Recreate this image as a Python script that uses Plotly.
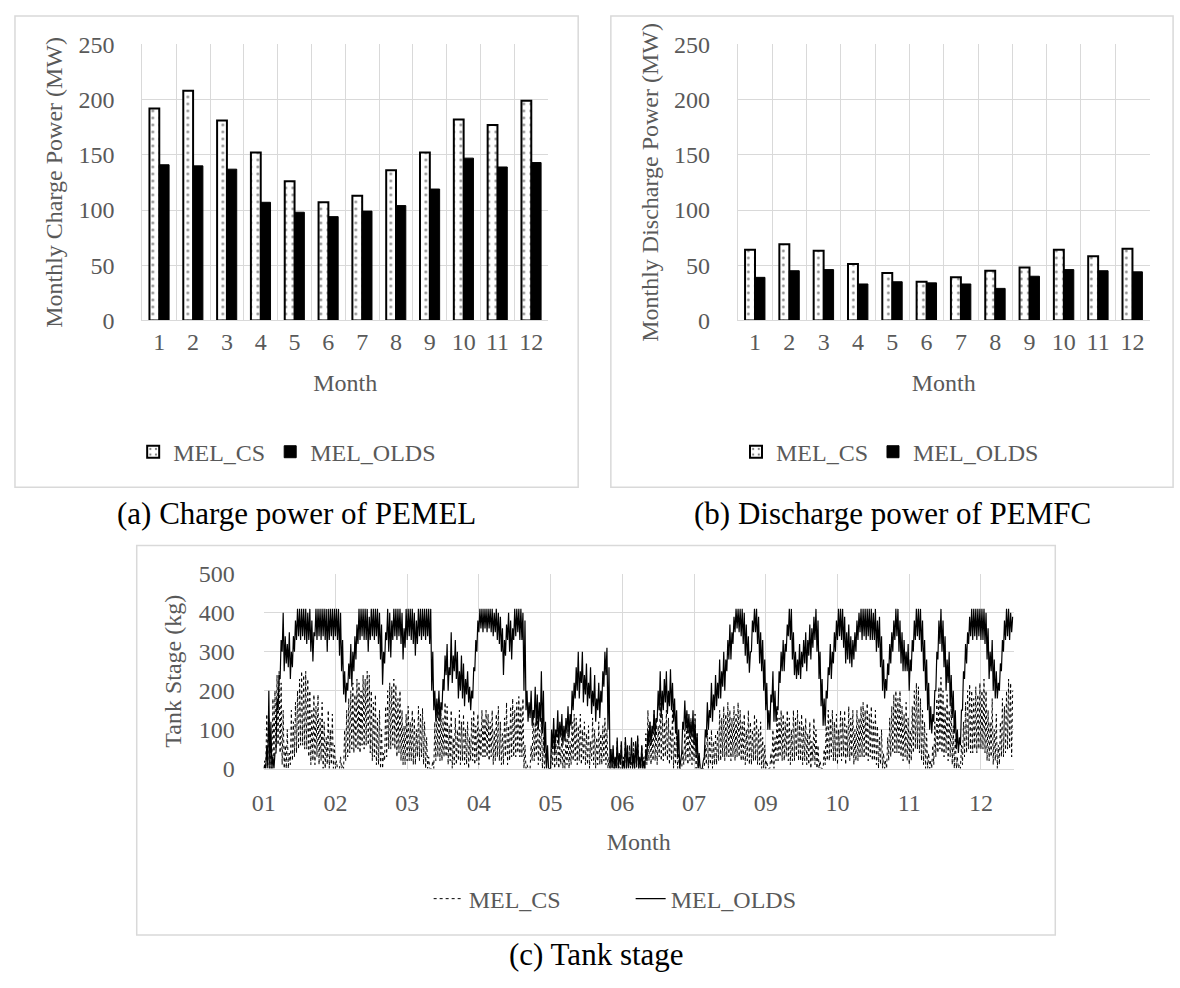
import pandas as pd
import plotly.graph_objects as go

W, H = 1180, 988

# ---------------- monthly bar data ----------------
months = [str(m) for m in range(1, 13)]
charge_cs = [192, 208, 181, 152, 126, 107, 113, 136, 152, 182, 177, 199]
charge_olds = [141, 140, 137, 107, 98, 94, 99, 104, 119, 147, 139, 143]
discharge_cs = [64, 69, 63, 51, 43, 35, 39, 45, 48, 64, 58, 65]
discharge_olds = [39, 45, 46, 33, 35, 34, 33, 29, 40, 46, 45, 44]

# ---------------- tank stage (daily high / low, kg) ----------------
olds_high = [
    10, 60, 200, 120, 30, 40, 180, 240, 330, 400, 340, 320, 350, 300, 340, 380,
    410, 410, 410, 410, 410, 400, 410, 380, 350, 410, 410, 410, 410, 410, 410, 410,
    410, 410, 410, 410, 410, 400, 330, 250, 220, 270, 320, 300, 340, 370, 410, 410,
    410, 410, 410, 390, 410, 410, 410, 410, 400, 370, 300, 350, 410, 400, 380, 410,
    410, 410, 410, 400, 360, 410, 410, 410, 410, 400, 380, 410, 410, 410, 410, 410,
    410, 410, 300, 200, 180, 200, 170, 230, 290, 320, 260, 350, 290, 330, 300, 250,
    290, 270, 230, 250, 210, 200, 260, 330, 380, 410, 410, 410, 410, 410, 410, 410,
    400, 410, 400, 390, 360, 330, 370, 400, 380, 360, 410, 410, 410, 410, 400, 380,
    200, 170, 200, 150, 210, 190, 170, 250, 200, 120, 60, 0, 100, 130, 100, 150,
    120, 140, 110, 130, 160, 140, 200, 220, 260, 300, 250, 300, 240, 270, 220, 260,
    200, 240, 180, 220, 200, 250, 300, 310, 260, 50, 60, 30, 80, 40, 70, 20,
    80, 60, 30, 80, 40, 70, 85, 30, 60, 20, 50, 100, 120, 110, 150, 130,
    200, 250, 200, 230, 250, 200, 255, 220, 180, 150, 100, 20, 120, 175, 150, 140,
    120, 150, 120, 90, 40, 0, 20, 100, 170, 150, 220, 190, 240, 220, 280, 250,
    300, 280, 330, 370, 350, 390, 410, 410, 410, 410, 400, 370, 340, 300, 380, 410,
    410, 390, 350, 330, 280, 220, 150, 190, 250, 200, 160, 250, 300, 330, 320, 370,
    410, 410, 350, 300, 280, 320, 300, 330, 350, 330, 370, 360, 390, 410, 380, 300,
    230, 180, 200, 260, 320, 300, 350, 380, 410, 410, 410, 390, 350, 370, 340, 330,
    350, 380, 400, 410, 410, 410, 410, 410, 410, 400, 410, 380, 390, 340, 280, 230,
    270, 320, 350, 380, 410, 410, 380, 350, 330, 300, 320, 280, 330, 380, 410, 410,
    410, 380, 330, 280, 220, 160, 140, 200, 300, 380, 410, 380, 340, 280, 300, 240,
    200, 150, 100, 80, 150, 250, 320, 350, 390, 410, 410, 410, 410, 410, 410, 410,
    400, 360, 300, 330, 280, 250, 220, 270, 330, 380, 410, 410, 400, 390,
]
olds_low = [
    0, 0, 0, 0, 0, 0, 40, 150, 230, 300, 250, 270, 260, 230, 260, 300,
    330, 340, 330, 340, 330, 320, 330, 300, 275, 340, 330, 340, 330, 340, 330, 300,
    330, 340, 330, 340, 330, 290, 250, 190, 170, 200, 230, 210, 250, 280, 320, 330,
    340, 330, 330, 300, 330, 340, 330, 340, 320, 280, 215, 270, 330, 300, 285, 330,
    340, 330, 340, 320, 280, 310, 330, 340, 330, 320, 290, 320, 340, 330, 340, 330,
    340, 320, 200, 150, 120, 130, 120, 150, 200, 240, 200, 240, 220, 250, 230, 180,
    200, 180, 160, 190, 170, 150, 180, 250, 300, 350, 360, 350, 360, 350, 360, 350,
    340, 350, 330, 320, 300, 240, 290, 330, 300, 280, 330, 340, 350, 330, 330, 200,
    150, 120, 130, 110, 130, 110, 100, 120, 90, 40, 0, 0, 0, 50, 40, 80,
    60, 80, 60, 70, 90, 80, 110, 150, 180, 200, 180, 220, 170, 190, 160, 180,
    140, 160, 120, 150, 130, 170, 210, 240, 100, 0, 0, 0, 0, 0, 10, 0,
    0, 0, 0, 10, 0, 0, 10, 0, 0, 0, 0, 20, 60, 60, 90, 80,
    120, 150, 130, 150, 170, 140, 160, 150, 120, 90, 30, 0, 40, 100, 100, 90,
    80, 80, 60, 30, 0, 0, 0, 30, 80, 100, 130, 120, 150, 160, 180, 180,
    210, 200, 250, 280, 280, 320, 350, 360, 350, 340, 320, 290, 270, 246, 300, 350,
    350, 320, 270, 250, 200, 150, 100, 100, 170, 120, 120, 150, 220, 250, 250, 300,
    340, 330, 280, 240, 230, 240, 230, 260, 270, 250, 290, 280, 310, 330, 300, 230,
    160, 110, 110, 180, 240, 230, 270, 300, 330, 340, 330, 310, 270, 280, 270, 260,
    280, 300, 330, 350, 330, 340, 330, 340, 330, 330, 330, 300, 310, 260, 200, 180,
    200, 240, 270, 300, 330, 340, 300, 270, 250, 250, 250, 200, 250, 300, 330, 340,
    330, 300, 250, 200, 150, 100, 90, 120, 200, 280, 320, 300, 260, 200, 220, 160,
    130, 90, 50, 40, 60, 150, 230, 270, 320, 340, 330, 340, 330, 340, 330, 330,
    320, 280, 230, 250, 200, 180, 180, 200, 250, 300, 330, 340, 330, 350,
]
cs_high = [
    20, 140, 130, 60, 180, 200, 240, 250, 220, 150, 60, 100, 40, 150, 120, 170,
    200, 230, 250, 240, 250, 230, 200, 150, 190, 160, 190, 130, 170, 120, 80, 150,
    100, 140, 60, 20, 0, 30, 10, 100, 150, 180, 200, 220, 190, 230, 220, 200,
    240, 230, 250, 240, 200, 170, 190, 130, 150, 100, 40, 160, 200, 220, 210, 230,
    215, 180, 200, 150, 110, 140, 160, 120, 150, 130, 100, 160, 140, 155, 120, 80,
    30, 0, 20, 120, 160, 180, 150, 130, 170, 160, 110, 150, 80, 130, 100, 150,
    120, 140, 100, 120, 80, 130, 150, 110, 140, 100, 150, 130, 150, 140, 120, 150,
    100, 140, 160, 120, 90, 130, 170, 110, 160, 180, 150, 170, 185, 160, 180, 60,
    10, 0, 60, 150, 120, 140, 100, 130, 80, 40, 0, 0, 60, 100, 80, 100,
    60, 90, 50, 80, 100, 70, 120, 140, 130, 110, 140, 100, 120, 90, 110, 70,
    130, 100, 80, 120, 90, 110, 130, 100, 30, 0, 50, 20, 70, 10, 60, 30,
    80, 40, 60, 20, 70, 50, 80, 20, 60, 30, 90, 150, 120, 100, 150, 130,
    110, 168, 140, 120, 150, 130, 100, 150, 80, 100, 40, 0, 50, 100, 140, 120,
    130, 100, 140, 90, 30, 0, 0, 60, 100, 80, 100, 70, 90, 100, 150, 130,
    160, 140, 170, 150, 130, 160, 140, 170, 150, 120, 140, 100, 150, 120, 100, 140,
    130, 100, 120, 80, 60, 20, 0, 40, 100, 80, 150, 130, 150, 140, 120, 150,
    130, 100, 150, 130, 150, 120, 140, 110, 130, 90, 120, 70, 130, 100, 60, 20,
    0, 50, 110, 150, 130, 150, 120, 140, 100, 150, 130, 150, 110, 160, 130, 150,
    100, 150, 130, 160, 170, 150, 168, 140, 160, 120, 150, 110, 80, 100, 40, 20,
    80, 130, 160, 190, 200, 180, 200, 160, 140, 170, 130, 100, 160, 200, 220, 210,
    180, 150, 120, 90, 40, 20, 60, 120, 180, 210, 234, 200, 160, 190, 150, 170,
    110, 80, 30, 10, 60, 120, 170, 200, 217, 200, 180, 210, 190, 220, 200, 230,
    200, 150, 120, 180, 100, 140, 60, 120, 180, 160, 200, 230, 220, 200,
]
cs_low = [
    0, 0, 10, 0, 0, 20, 50, 60, 40, 10, 0, 0, 0, 10, 20, 30,
    40, 50, 60, 60, 50, 50, 30, 10, 20, 10, 30, 10, 20, 0, 0, 10,
    0, 10, 0, 0, 0, 0, 0, 0, 20, 30, 40, 50, 40, 50, 50, 40,
    60, 50, 60, 60, 40, 20, 30, 10, 10, 0, 0, 20, 30, 50, 50, 60,
    50, 30, 40, 20, 10, 10, 20, 20, 20, 10, 10, 30, 20, 30, 10, 0,
    0, 0, 0, 0, 20, 30, 20, 20, 30, 30, 10, 20, 0, 10, 10, 20,
    10, 20, 10, 10, 0, 20, 20, 10, 20, 10, 30, 30, 30, 30, 20, 30,
    10, 20, 30, 20, 10, 10, 30, 10, 20, 30, 30, 30, 40, 30, 30, 0,
    0, 0, 0, 20, 20, 30, 10, 20, 0, 0, 0, 0, 0, 10, 0, 10,
    0, 10, 0, 0, 10, 0, 10, 20, 20, 10, 20, 10, 20, 10, 10, 0,
    20, 10, 0, 10, 10, 10, 20, 10, 0, 0, 0, 0, 0, 0, 0, 0,
    0, 0, 0, 0, 0, 0, 0, 0, 0, 0, 0, 10, 20, 10, 20, 20,
    10, 30, 20, 20, 30, 20, 10, 20, 0, 10, 0, 0, 0, 10, 20, 10,
    20, 10, 20, 0, 0, 0, 0, 0, 10, 0, 10, 0, 10, 10, 20, 20,
    30, 20, 30, 30, 20, 30, 20, 30, 30, 20, 20, 10, 20, 10, 10, 20,
    20, 10, 10, 0, 0, 0, 0, 0, 10, 0, 20, 20, 30, 20, 20, 30,
    20, 10, 20, 20, 30, 20, 20, 10, 20, 10, 10, 0, 20, 10, 0, 0,
    0, 0, 10, 20, 20, 30, 20, 20, 10, 30, 20, 30, 10, 30, 20, 30,
    10, 20, 20, 30, 30, 30, 30, 20, 30, 20, 20, 10, 0, 10, 0, 0,
    0, 20, 30, 40, 40, 40, 40, 30, 20, 30, 20, 10, 20, 40, 50, 50,
    40, 20, 10, 0, 0, 0, 0, 10, 30, 40, 50, 40, 30, 40, 20, 30,
    10, 0, 0, 0, 0, 10, 30, 40, 50, 40, 40, 50, 40, 50, 50, 50,
    40, 20, 20, 30, 10, 20, 0, 10, 30, 30, 40, 50, 50, 30,
]
tank_tick_labels = ["01", "02", "03", "04", "05", "06", "07", "09", "10", "11", "12"]

# each day: overnight low, then afternoon high
def interleave(lows, highs):
    out = []
    for lo, hi in zip(lows, highs):
        out.extend([lo, hi])
    return out

tank_olds = interleave(olds_low, olds_high)
tank_cs = interleave(cs_low, cs_high)
tank_time = pd.date_range("2020-01-01", periods=len(tank_olds), freq="12h")
tank_ticks = pd.date_range("2020-01-01", periods=len(tank_tick_labels), freq="35D")

FONT = "Liberation Serif, serif"
GREY_TXT = "#595959"
GRID = "#d9d9d9"


def px_x(v):
    return v / W


def px_y(v):
    return 1 - v / H


cs_bar = dict(
    color="white",
    line=dict(color="black", width=2),
    pattern=dict(shape=".", size=7, solidity=0.12, fgcolor="black", bgcolor="white"),
)
olds_bar = dict(color="black", line=dict(color="black", width=1))

fig = go.Figure()

# (a) monthly charge power
fig.add_trace(go.Bar(x=months, y=charge_cs, name="MEL_CS", marker=cs_bar,
                     xaxis="x", yaxis="y", legend="legend"))
fig.add_trace(go.Bar(x=months, y=charge_olds, name="MEL_OLDS", marker=olds_bar,
                     xaxis="x", yaxis="y", legend="legend"))
# (b) monthly discharge power
fig.add_trace(go.Bar(x=months, y=discharge_cs, name="MEL_CS", marker=cs_bar,
                     xaxis="x2", yaxis="y2", legend="legend2"))
fig.add_trace(go.Bar(x=months, y=discharge_olds, name="MEL_OLDS", marker=olds_bar,
                     xaxis="x2", yaxis="y2", legend="legend2"))
# (c) tank stage
fig.add_trace(go.Scatter(x=tank_time, y=tank_cs, name="MEL_CS", mode="lines",
                         line=dict(color="black", width=1, dash="dot"),
                         xaxis="x3", yaxis="y3", legend="legend3"))
fig.add_trace(go.Scatter(x=tank_time, y=tank_olds, name="MEL_OLDS", mode="lines",
                         line=dict(color="black", width=1.2),
                         xaxis="x3", yaxis="y3", legend="legend3"))

tickfont = dict(family=FONT, size=24, color=GREY_TXT)
titlefont = dict(family=FONT, size=24, color=GREY_TXT)

cat_x = dict(type="category", tickson="boundaries", showgrid=True, gridcolor=GRID,
             gridwidth=1.3, showline=True, linecolor=GRID, linewidth=1.3, ticks="",
             tickfont=tickfont, title=dict(text="Month", font=titlefont, standoff=19))
val_y = dict(range=[0, 250], dtick=50, showgrid=True, gridcolor=GRID, gridwidth=1.3,
             showline=True, linecolor=GRID, linewidth=1.3, ticks="", zeroline=False,
             tickfont=tickfont, ticklabelstandoff=22)

ya, yb = px_y(315.7), px_y(32.3)

legend_common = dict(orientation="h", font=dict(family=FONT, size=24, color=GREY_TXT),
                     bgcolor="rgba(0,0,0,0)", xanchor="center", yanchor="middle")

fig.update_layout(
    width=W, height=H, margin=dict(l=0, r=0, t=0, b=0),
    paper_bgcolor="white", plot_bgcolor="white",
    barmode="group", bargap=0.42, bargroupgap=0.0,
    font=dict(family=FONT, color=GREY_TXT),
    xaxis=dict(cat_x, domain=[px_x(131.7), px_x(541.7)], anchor="y"),
    yaxis=dict(val_y, domain=[ya, yb], anchor="x",
               title=dict(text="Monthly Charge Power (MW)", font=titlefont, standoff=8)),
    xaxis2=dict(cat_x, domain=[px_x(733.3), px_x(1149.3)], anchor="y2"),
    yaxis2=dict(val_y, domain=[ya, yb], anchor="x2",
                title=dict(text="Monthly Discharge Power (MW)", font=titlefont, standoff=8)),
    xaxis3=dict(type="date", domain=[px_x(254.3), px_x(1012)], anchor="y3",
                range=["2020-01-01", "2021-01-01"], tickmode="array",
                tickvals=list(tank_ticks), ticktext=tank_tick_labels,
                showgrid=True, gridcolor=GRID, gridwidth=1.3, showline=True,
                linecolor=GRID, linewidth=1.3, ticks="", tickfont=tickfont,
                ticklabelstandoff=12,
                title=dict(text="Month", font=titlefont, standoff=18)),
    yaxis3=dict(domain=[px_y(776), px_y(576)], anchor="x3", range=[0, 500], dtick=100,
                showgrid=True, gridcolor=GRID, gridwidth=1.3, showline=False,
                ticks="", zeroline=False, tickfont=tickfont, ticklabelstandoff=28,
                title=dict(text="Tank Stage (kg)", font=titlefont, standoff=10)),
    legend=dict(legend_common, x=px_x(278), y=px_y(451)),
    legend2=dict(legend_common, x=px_x(887), y=px_y(451)),
    legend3=dict(legend_common, x=px_x(625), y=px_y(910),
                 entrywidth=157, entrywidthmode="pixels"),
)

# chart frames
frames = [(3, 3, 572, 487), (605, 3, 1173, 487), (126, 547, 1054, 947)]
for x0, y0, x1, y1 in frames:
    fig.add_shape(type="rect", xref="paper", yref="paper",
                  x0=px_x(x0), x1=px_x(x1), y0=px_y(y1), y1=px_y(y0),
                  line=dict(color=GRID, width=1.5), fillcolor="rgba(0,0,0,0)", layer="below")

captions = [("(a) Charge power of PEMEL", 287, 514),
            ("(b) Discharge power of PEMFC", 890, 514),
            ("(c) Tank stage", 590, 967)]
for text, cx, cy in captions:
    fig.add_annotation(text=text, xref="paper", yref="paper", x=px_x(cx), y=px_y(cy),
                       xanchor="center", yanchor="middle", showarrow=False,
                       font=dict(family=FONT, size=31, color="black"))

fig.write_html("out.html")
